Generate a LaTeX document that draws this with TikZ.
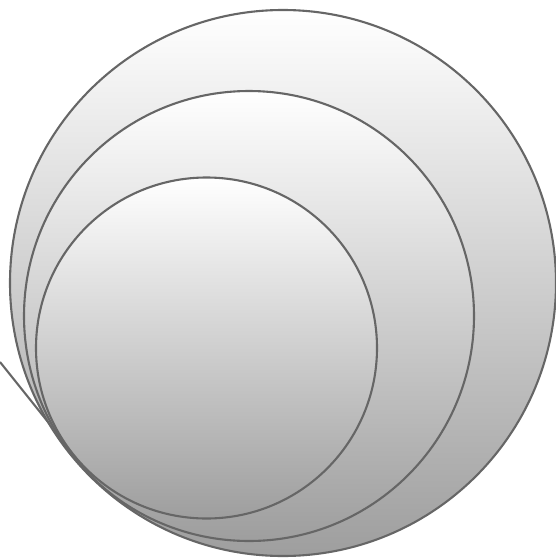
\documentclass[tikz,border=0pt]{standalone}
\usetikzlibrary{shapes.geometric}
\tikzset{
  ring/.style={circle, draw=black!60, line width=2.1pt, inner sep=0pt, outer sep=0pt,
    top color=white, bottom color=black!38},
  edge/.style={draw=black!60, line width=2.1pt}
}
\begin{document}
\begin{tikzpicture}[x=1pt,y=-1pt]
\useasboundingbox (0,0) rectangle (556,560);
\coordinate (s) at (0,362);
\coordinate (e) at (80,462);
\draw[edge] (s) -- (e);
\node[ring, minimum size=546pt] (big) at (283,283) {};
\node[ring, minimum size=450pt] (mid) at (249,316) {};
\node[ring, minimum size=341pt] (small) at (206.5,348) {};
\end{tikzpicture}
\end{document}
